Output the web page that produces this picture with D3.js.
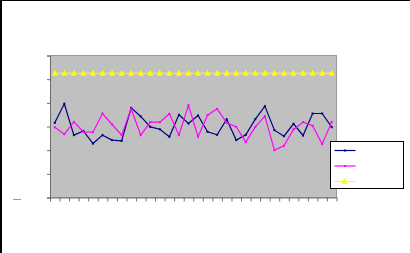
<!DOCTYPE html>
<html>
<head>
<meta charset="utf-8">
<script src="https://cdn.jsdelivr.net/npm/d3@7"></script>
<style>
  body { margin: 0; background: #fff; }
  svg { display: block; }
</style>
</head>
<body>
<div id="chart"></div>
<script>
// categories 1..30
let categories = d3.range(1, 31);

let seriesA = [63.1, 79.2, 52.7, 56.3, 45.6, 52.7, 48.5, 47.9, 75.8, 68.5,
               59.7, 57.7, 51.3, 69.9, 62.5, 69.3, 55.5, 53.0, 66.2, 48.5,
               53.0, 66.2, 77.2, 56.9, 51.8, 62.3, 52.4, 71.0, 71.0, 59.4];
let seriesB = [59.4, 53.5, 63.9, 55.5, 55.2, 71.0, 61.7, 52.7, 74.9, 52.7,
               63.7, 63.7, 70.7, 52.7, 78.0, 51.3, 69.6, 74.9, 63.1, 59.7,
               46.8, 59.7, 68.7, 40.0, 43.7, 57.5, 63.7, 60.6, 45.1, 63.9];
let seriesC = categories.map(() => 105);

let yTicks = [0, 20, 40, 60, 80, 100, 120];

let svgWidth = 410, svgHeight = 253;
let plot = {left: 50, top: 55.5, right: 336.5, bottom: 197.5};

let svg = d3.select("#chart").append("svg")
    .attr("width", svgWidth)
    .attr("height", svgHeight);

// outer frame (only top and left edge show)
svg.append("line").attr("x1", 0).attr("x2", svgWidth).attr("y1", 0.5).attr("y2", 0.5)
    .attr("stroke", "#000").attr("stroke-width", 1);
svg.append("line").attr("x1", 1).attr("x2", 1).attr("y1", 0).attr("y2", svgHeight)
    .attr("stroke", "#000").attr("stroke-width", 2);

let x = d3.scaleBand().domain(categories).range([plot.left, plot.right]).padding(0);
let xEdge = d3.scaleLinear().domain([0, categories.length]).range([plot.left, plot.right]);
let y = d3.scaleLinear().domain([0, 120]).range([plot.bottom, plot.top]);
let cx = d => x(d) + x.bandwidth() / 2;

// plot area
svg.append("rect")
    .attr("x", plot.left + 0.5)
    .attr("y", plot.top)
    .attr("width", plot.right - plot.left - 0.5)
    .attr("height", plot.bottom - plot.top)
    .attr("fill", "#c0c0c0")
    .attr("stroke", "#999")
    .attr("stroke-width", 1);

// axes
svg.append("g")
    .attr("transform", "translate(" + plot.left + ",0)")
    .call(d3.axisLeft(y).tickValues(yTicks).tickSize(3).tickFormat(""))
    .call(g => g.selectAll("line, path").attr("stroke", "#6b6b6b"));

svg.append("g")
    .attr("transform", "translate(0," + plot.bottom + ")")
    .call(d3.axisBottom(xEdge).tickValues(d3.range(0, categories.length + 1)).tickSize(4).tickSizeOuter(0).tickFormat(""))
    .call(g => g.selectAll("line, path").attr("stroke", "#707070"));

// small stray dash at lower left
svg.append("line").attr("x1", 13).attr("x2", 21).attr("y1", 199.5).attr("y2", 199.5)
    .attr("stroke", "#999").attr("stroke-width", 1);

let line = d3.line().x((d, i) => cx(categories[i])).y(d => y(d));

function drawSeries(values, color, marker) {
    svg.append("path")
        .datum(values)
        .attr("fill", "none")
        .attr("stroke", color)
        .attr("stroke-width", 1.2)
        .attr("d", line);
    if (marker === "square") {
        svg.selectAll(null).data(values).enter().append("rect")
            .attr("x", (d, i) => cx(categories[i]) - 1)
            .attr("y", d => y(d) - 1)
            .attr("width", 2).attr("height", 2)
            .attr("fill", color);
    } else {
        svg.selectAll(null).data(values).enter().append("path")
            .attr("transform", (d, i) => "translate(" + cx(categories[i]) + "," + y(d) + ")")
            .attr("d", "M0,-3.5L3,2.5L-3,2.5Z")
            .attr("fill", color);
    }
}

drawSeries(seriesC, "#ffff00", "triangle");
drawSeries(seriesA, "#000080", "square");
drawSeries(seriesB, "#ff00ff", "square");

// legend
let legend = svg.append("g").attr("transform", "translate(330.5,141.5)");
legend.append("rect")
    .attr("width", 73).attr("height", 47)
    .attr("fill", "#fff").attr("stroke", "#000").attr("stroke-width", 1);

let legendItems = [
    {color: "#000080", marker: "square"},
    {color: "#ff00ff", marker: "square"},
    {color: "#ffff00", marker: "triangle"}
];
legendItems.forEach((it, i) => {
    let ly = 9 + i * 15.5;
    legend.append("line")
        .attr("x1", 4).attr("x2", 25).attr("y1", ly).attr("y2", ly)
        .attr("stroke", it.color).attr("stroke-width", 1.2);
    if (it.marker === "square") {
        legend.append("rect").attr("x", 13.5).attr("y", ly - 1).attr("width", 2).attr("height", 2).attr("fill", it.color);
    } else {
        legend.append("path").attr("transform", "translate(14," + ly + ")")
            .attr("d", "M0,-3.5L3,2.5L-3,2.5Z").attr("fill", it.color);
    }
});
</script>
</body>
</html>
